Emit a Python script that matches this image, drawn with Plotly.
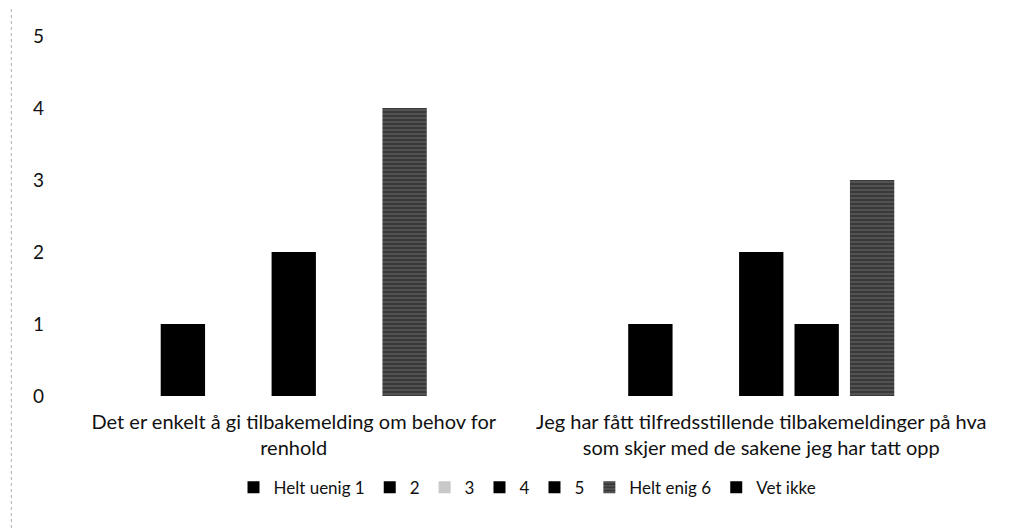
import plotly.graph_objects as go

categories = ["Det er enkelt å gi tilbakemelding om behov for<br>renhold",
              "Jeg har fått tilfredsstillende tilbakemeldinger på hva<br>som skjer med de sakene jeg har tatt opp"]
series_names = ["Helt uenig 1", "2", "3", "4", "5", "Helt enig 6", "Vet ikke"]
helt_uenig_1 = [0, 0]
s2 = [1, 1]
s3 = [0, 0]
s4 = [2, 2]
s5 = [0, 1]
helt_enig_6 = [4, 3]
vet_ikke = [0, 0]
values = [helt_uenig_1, s2, s3, s4, s5, helt_enig_6, vet_ikke]
colors = ["#000000", "#000000", "#c8c8c8", "#000000", "#000000", "#3a3a3a", "#000000"]
y_ticks = [0, 1, 2, 3, 4, 5]

FONT = "Lato, Open Sans, sans-serif"

fig = go.Figure()
x_idx = list(range(len(categories)))
for name, vals, col in zip(series_names, values, colors):
    kw = {}
    if name == "Helt enig 6":
        kw = dict(pattern=dict(shape="-", fgcolor="#8a8a8a", size=4, solidity=0.3))
    fig.add_trace(go.Bar(x=x_idx, y=vals, name=name,
                         marker=dict(color=col, line=dict(width=0), **kw)))

fig.update_layout(
    width=1009, height=528,
    paper_bgcolor="white", plot_bgcolor="white",
    margin=dict(l=52, r=22, t=28, b=140),
    barmode="group", bargap=0.17, bargroupgap=0.2,
    font=dict(family=FONT, size=17, color="#111111"),
    legend=dict(orientation="h", x=0.5, xanchor="center", y=-0.205, yanchor="top",
                font=dict(size=17), itemwidth=30, traceorder="normal"),
    showlegend=True,
)
fig.update_xaxes(tickvals=x_idx, ticktext=categories, showgrid=False, showline=False,
                 zeroline=False, tickfont=dict(size=20), range=[-0.5, 1.5],
                 ticklabelstandoff=12)
fig.update_yaxes(range=[0, 5], tickvals=y_ticks, showgrid=False, zeroline=False,
                 showline=False, ticklabelstandoff=15, tickfont=dict(size=19))
fig.add_shape(type="line", xref="paper", yref="paper", x0=-0.052, x1=-0.052, y0=-0.7, y1=1.1,
              line=dict(color="#b0b0b0", width=1, dash="dot"))

fig.write_html("out.html")
